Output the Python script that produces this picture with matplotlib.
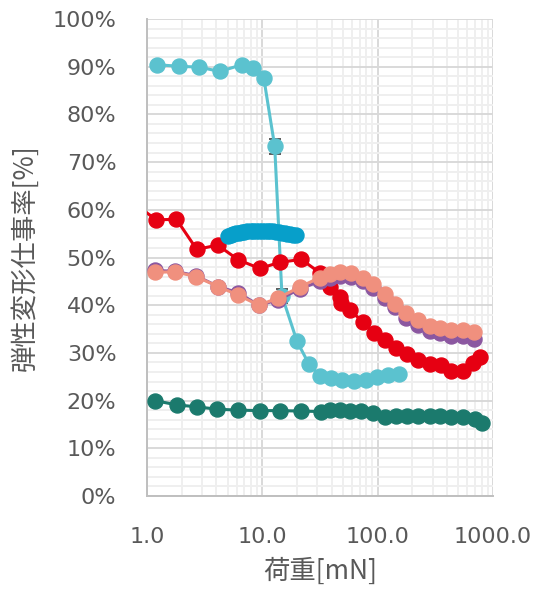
import matplotlib
matplotlib.use("Agg")
import matplotlib.pyplot as plt
from matplotlib.ticker import FixedLocator, FuncFormatter, MultipleLocator, LogLocator, NullFormatter

plt.rcParams['font.family'] = ['DejaVu Sans', 'Noto Sans CJK JP']

# Load [mN] / elastic work ratio [%] for each sample
cyan_x = [1.23, 1.89, 2.84, 4.29, 6.6, 8.3, 10.3, 12.8, 14.8, 20.0, 25.3, 31.5, 39.7, 49.5, 62.3, 78.7, 98.6, 122.8, 152.9]
cyan_y = [90.4, 90.1, 89.9, 89.0, 90.4, 89.8, 87.6, 73.3, 42.0, 32.4, 27.7, 25.2, 24.8, 24.4, 24.2, 24.3, 24.9, 25.3, 25.6]
cyan_err = [0, 0, 0, 0, 0, 0, 0, 1.5, 1.5, 0, 0, 0, 0, 0, 0, 0, 0, 0, 0]

blue_x = [5.0, 5.3, 5.6, 5.9, 6.3, 6.6, 7.0, 7.4, 7.9, 8.3, 8.8, 9.3, 9.9, 10.5, 11.1, 11.7,
          12.4, 13.1, 13.9, 14.7, 15.6, 16.5, 17.4, 18.5, 19.6]
blue_y = [54.6, 54.8, 55.0, 55.1, 55.2, 55.3, 55.4, 55.5, 55.5, 55.6, 55.6, 55.6, 55.6, 55.6, 55.6, 55.5,
          55.5, 55.4, 55.3, 55.2, 55.1, 55.0, 54.9, 54.8, 54.7]

red_x = [0.81, 1.2, 1.8, 2.7, 4.1, 6.2, 9.5, 14.2, 21.8, 31.5, 38.4, 46.9, 48.5, 57.2, 74.6, 92.3,
         115, 145, 179, 223, 282, 356, 434, 548, 669, 764]
red_y = [61.0, 57.9, 58.0, 51.7, 52.6, 49.5, 47.7, 49.0, 49.6, 46.8, 43.9, 41.8, 40.4, 39.0, 36.5, 34.2,
         32.6, 31.1, 29.8, 28.6, 27.7, 27.5, 26.3, 26.2, 27.9, 29.1]

pair_x = [1.17, 1.75, 2.65, 4.15, 6.2, 9.3, 13.7, 21.1, 31.5, 38.4, 46.9, 59.3, 74.6, 91.5,
          115, 141, 177, 223, 282, 349, 434, 548, 679]
purple_y = [47.3, 47.1, 46.2, 43.9, 42.6, 40.0, 41.1, 43.4, 45.0, 45.7, 46.2, 46.0, 45.0, 43.7,
            41.6, 39.6, 37.4, 35.9, 34.6, 34.1, 33.6, 33.5, 33.0]
salmon_y = [46.9, 47.0, 46.0, 43.9, 42.1, 40.0, 41.5, 43.8, 45.8, 46.6, 47.0, 46.7, 45.6, 44.4,
            42.3, 40.3, 38.3, 36.8, 35.6, 35.2, 34.8, 34.8, 34.4]

teal_x = [1.17, 1.81, 2.69, 4.06, 6.17, 9.5, 14.2, 21.6, 32.5, 38.4, 46.9, 57.2, 72, 90.8,
          115, 145, 179, 223, 282, 350, 434, 548, 694, 804]
teal_y = [20.0, 19.1, 18.7, 18.2, 18.0, 17.9, 17.9, 17.8, 17.7, 18.0, 18.0, 17.9, 17.8, 17.5,
          16.6, 16.8, 16.8, 16.8, 16.8, 16.8, 16.6, 16.5, 16.1, 15.4]

x_ticks = [1, 10, 100, 1000]
y_ticks = [0, 10, 20, 30, 40, 50, 60, 70, 80, 90, 100]

fig = plt.figure(figsize=(5.43, 5.90), dpi=100)
ax = fig.add_axes([147 / 543, 94 / 590, 346 / 543, 477 / 590])

ms = 10.8
lw = 2.2
style = dict(marker='o', markersize=ms, linewidth=lw, clip_on=True)

ax.errorbar(cyan_x, cyan_y, yerr=cyan_err, color='#5BC2CF', ecolor='#404040', elinewidth=1.0,
            capsize=4, capthick=1.2, zorder=3, **style)
ax.plot(red_x, red_y, color='#E60012', zorder=4, **style)
ax.plot(pair_x, purple_y, color='#8B57A0', zorder=5, **style)
ax.plot(pair_x, salmon_y, color='#F0907E', zorder=6, **style)
ax.plot(teal_x, teal_y, color='#1B7A6D', zorder=4, **style)
ax.plot(blue_x, blue_y, color='#079FCA', zorder=7, **style)

ax.set_xscale('log')
ax.set_xlim(1, 1000)
ax.set_ylim(0, 100)

ax.xaxis.set_major_locator(FixedLocator(x_ticks))
ax.xaxis.set_minor_locator(LogLocator(base=10, subs=range(2, 10)))
ax.xaxis.set_major_formatter(FuncFormatter(lambda v, p: f"{v:.1f}"))
ax.xaxis.set_minor_formatter(NullFormatter())
ax.yaxis.set_major_locator(FixedLocator(y_ticks))
ax.yaxis.set_minor_locator(MultipleLocator(2))
ax.yaxis.set_major_formatter(FuncFormatter(lambda v, p: f"{v:.0f}%"))

ax.grid(which='major', color='#D9D9D9', linewidth=1.4, zorder=0)
ax.grid(which='minor', color='#EFEFEF', linewidth=1.4, zorder=0)
ax.set_axisbelow(True)

for side in ('top', 'right'):
    ax.spines[side].set_visible(False)
for side in ('left', 'bottom'):
    ax.spines[side].set_color('#BFBFBF')
    ax.spines[side].set_linewidth(1.4)

ax.tick_params(which='both', length=0, labelsize=16, labelcolor='#595959')
ax.tick_params(axis='y', pad=22)
ax.tick_params(axis='x', pad=22)

ax.set_xlabel('荷重[mN]', fontsize=19, color='#595959',
              family=['Noto Sans CJK JP', 'DejaVu Sans'], labelpad=8)
ax.set_ylabel('弾性変形仕事率[%]', fontsize=19, color='#595959',
              family=['Noto Sans CJK JP', 'DejaVu Sans'], labelpad=10)

fig.savefig('out.png', dpi=100)
